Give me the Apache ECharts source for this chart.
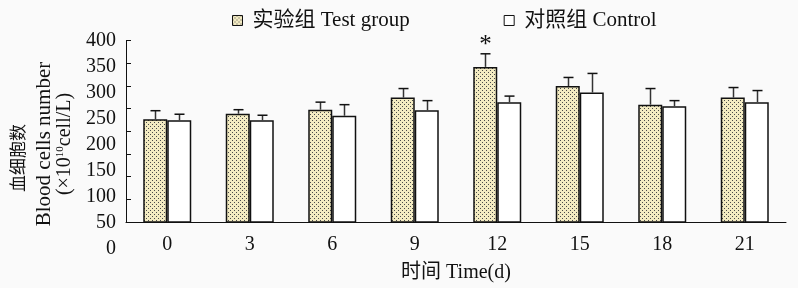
<!DOCTYPE html>
<html>
<head>
<meta charset="utf-8">
<script src="https://cdn.jsdelivr.net/npm/echarts@6/dist/echarts.min.js"></script>
<style>
html,body{margin:0;padding:0;background:#fafafa;}
#chart{width:798px;height:288px;}
</style>
</head>
<body>
<div id="chart"></div>
<script>
// ---- data ----
const categories = ['0', '3', '6', '9', '12', '15', '18', '21'];
const testValues = [244, 255, 263, 287, 348, 310, 273, 287];
const testSD = [17, 8, 15, 18, 26, 17, 32, 20];
const controlValues = [242, 242, 251, 262, 278, 297, 270, 278];
const controlSD = [12, 10, 22, 19, 12, 38, 11, 23];
const testMarks = ['', '', '', '', '*', '', '', ''];
const yTickValues = [40, 85, 130, 175, 220, 265, 310, 355, 400];
const yLabelValues = [0, 50, 100, 150, 200, 250, 300, 350, 400];
const seriesNames = ['实验组 Test group', '对照组 Control'];
const xAxisName = '时间 Time(d)';
const yTitleCn = '血细胞数';
const yTitleEn = 'Blood cells number';

// ---- style ----
const FONT = "'Liberation Serif', 'Noto Sans CJK SC', serif";
const BAR_W = 24;
const INK = '#111';

const pc = document.createElement('canvas');
pc.width = 4; pc.height = 4;
const g = pc.getContext('2d');
g.fillStyle = '#f3ebc2'; g.fillRect(0, 0, 4, 4);
g.fillStyle = '#4a4a4a';
g.fillRect(0, 0, 1, 1); g.fillRect(2, 2, 1, 1);
const pattern = { image: pc, repeat: 'repeat' };

function errRenderer(sign, marks) {
  return function (params, api) {
    const i = api.value(0);
    const v = api.value(1);
    const sd = api.value(2);
    const b = api.coord([i, v]);
    const t = api.coord([i, v + sd]);
    const x = Math.round(b[0] + sign * BAR_W / 2) + 0.5;
    const children = [
      { type: 'line', shape: { x1: x, y1: b[1], x2: x, y2: t[1] }, style: { stroke: '#333', lineWidth: 1.5 } },
      { type: 'line', shape: { x1: x - 5, y1: t[1], x2: x + 5, y2: t[1] }, style: { stroke: INK, lineWidth: 1.5 } }
    ];
    if (marks && marks[params.dataIndex]) {
      children.push({ type: 'text', x: x, y: t[1] + 4, style: { text: marks[params.dataIndex], fontFamily: FONT, fontSize: 25, fill: INK, align: 'center', verticalAlign: 'bottom' } });
    }
    return { type: 'group', children: children };
  };
}

const chart = echarts.init(document.getElementById('chart'), null, { renderer: 'canvas' });
chart.setOption({
  backgroundColor: '#fafafa',
  animation: false,
  textStyle: { fontFamily: FONT, color: INK },
  legend: {
    left: 227, top: 5,
    itemWidth: 10, itemHeight: 10, itemGap: 94,
    textStyle: { fontFamily: FONT, fontSize: 21, color: INK, padding: [0, 0, 0, 5] },
    data: [
      { name: seriesNames[0], icon: 'rect', itemStyle: { borderColor: INK, borderWidth: 1 } },
      { name: seriesNames[1], icon: 'rect', itemStyle: { borderColor: INK, borderWidth: 1 } }
    ]
  },
  grid: [
    { left: 126, right: 12, top: 40.7, bottom: 60, containLabel: false },
    { left: 126, right: 12, top: 40.7, bottom: 39.2, containLabel: false }
  ],
  xAxis: [
    {
      type: 'category', gridIndex: 0, data: categories, boundaryGap: true,
      axisLine: { lineStyle: { color: INK, width: 1 } },
      axisTick: { inside: true, length: 6, interval: 0, lineStyle: { color: INK } },
      axisLabel: { fontFamily: FONT, fontSize: 20, color: INK, margin: 13 },
      name: xAxisName, nameLocation: 'middle', nameGap: 41,
      nameTextStyle: { fontFamily: FONT, fontSize: 20, color: INK }
    },
    { type: 'category', gridIndex: 1, data: categories, show: false }
  ],
  yAxis: [
    {
      type: 'value', gridIndex: 0, min: 40, max: 400,
      axisLine: { show: true, lineStyle: { color: INK, width: 1 } },
      axisTick: { show: true, inside: true, length: 5, customValues: yTickValues, lineStyle: { color: INK } },
      axisLabel: { show: false },
      splitLine: { show: false }
    },
    {
      type: 'value', gridIndex: 1, min: 0, max: 400, interval: 50,
      axisLine: { show: false }, axisTick: { show: false }, splitLine: { show: false },
      axisLabel: { show: true, fontFamily: FONT, fontSize: 20, color: INK, margin: 10, customValues: yLabelValues }
    }
  ],
  series: [
    {
      name: seriesNames[0], type: 'bar', xAxisIndex: 0, yAxisIndex: 0,
      data: testValues, barWidth: BAR_W, barGap: '0%',
      itemStyle: { color: pattern, borderColor: INK, borderWidth: 1.5 }
    },
    {
      name: seriesNames[1], type: 'bar', xAxisIndex: 0, yAxisIndex: 0,
      data: controlValues, barWidth: BAR_W, barGap: '0%',
      itemStyle: { color: '#ffffff', borderColor: INK, borderWidth: 1.5 }
    },
    {
      type: 'custom', xAxisIndex: 0, yAxisIndex: 0, z: 5,
      renderItem: errRenderer(-1, testMarks),
      encode: { x: 0, y: 1 },
      data: testValues.map((v, i) => [i, v, testSD[i]])
    },
    {
      type: 'custom', xAxisIndex: 0, yAxisIndex: 0, z: 5,
      renderItem: errRenderer(1, null),
      encode: { x: 0, y: 1 },
      data: controlValues.map((v, i) => [i, v, controlSD[i]])
    }
  ],
  graphic: [
    { type: 'text', x: 20, y: 158, rotation: Math.PI / 2,
      style: { text: yTitleCn, fontFamily: FONT, fontSize: 17, fill: INK, align: 'center', verticalAlign: 'middle' } },
    { type: 'text', x: 44, y: 144, rotation: Math.PI / 2,
      style: { text: yTitleEn, fontFamily: FONT, fontSize: 21, fill: INK, align: 'center', verticalAlign: 'middle' } },
    { type: 'text', x: 65, y: 144, rotation: Math.PI / 2,
      style: { text: '(×10{sup|10}cell/L)', fontFamily: FONT, fontSize: 20, fill: INK, align: 'center', verticalAlign: 'middle',
        rich: { sup: { fontFamily: FONT, fontSize: 11, fill: INK, padding: [0, 0, 10, 0] } } } }
  ]
});
</script>
</body>
</html>
